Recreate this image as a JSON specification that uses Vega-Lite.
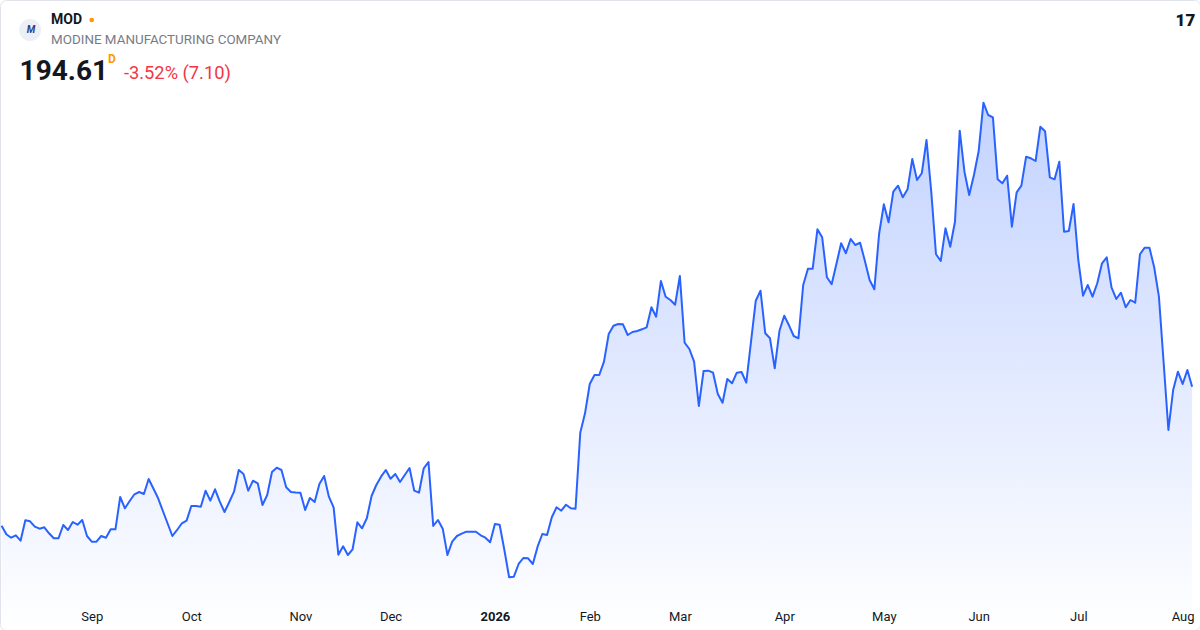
{
  "$schema": "https://vega.github.io/schema/vega-lite/v6.json",
  "width": 1200,
  "height": 630,
  "autosize": {"type": "none"},
  "padding": 0,
  "background": "#ffffff",
  "config": {
    "font": "Roboto",
    "view": {"stroke": "#e0e3eb", "strokeWidth": 1, "cornerRadius": 6}
  },
  "data": {
    "values": [
      {"date": "2025-08-05", "close": 135.46}, {"date": "2025-08-06", "close": 131.80}, {"date": "2025-08-07", "close": 130.35},
      {"date": "2025-08-08", "close": 131.37}, {"date": "2025-08-11", "close": 129.07}, {"date": "2025-08-12", "close": 137.76},
      {"date": "2025-08-13", "close": 137.33}, {"date": "2025-08-14", "close": 135.03}, {"date": "2025-08-15", "close": 134.18},
      {"date": "2025-08-18", "close": 134.78}, {"date": "2025-08-19", "close": 132.22}, {"date": "2025-08-20", "close": 130.10},
      {"date": "2025-08-21", "close": 130.10}, {"date": "2025-08-22", "close": 135.76}, {"date": "2025-08-25", "close": 133.63},
      {"date": "2025-08-26", "close": 137.03}, {"date": "2025-08-27", "close": 135.88}, {"date": "2025-08-28", "close": 137.88},
      {"date": "2025-08-29", "close": 131.07}, {"date": "2025-09-02", "close": 128.65}, {"date": "2025-09-03", "close": 128.65},
      {"date": "2025-09-04", "close": 131.07}, {"date": "2025-09-05", "close": 130.35}, {"date": "2025-09-08", "close": 133.93},
      {"date": "2025-09-09", "close": 133.93}, {"date": "2025-09-10", "close": 147.67}, {"date": "2025-09-11", "close": 142.86},
      {"date": "2025-09-12", "close": 145.97}, {"date": "2025-09-15", "close": 148.82}, {"date": "2025-09-16", "close": 149.80},
      {"date": "2025-09-17", "close": 148.95}, {"date": "2025-09-18", "close": 155.33}, {"date": "2025-09-19", "close": 151.29},
      {"date": "2025-09-22", "close": 147.12}, {"date": "2025-09-23", "close": 141.71}, {"date": "2025-09-24", "close": 136.39},
      {"date": "2025-09-25", "close": 131.07}, {"date": "2025-09-26", "close": 133.63}, {"date": "2025-09-29", "close": 136.48},
      {"date": "2025-09-30", "close": 137.59}, {"date": "2025-10-01", "close": 143.84}, {"date": "2025-10-02", "close": 143.84},
      {"date": "2025-10-03", "close": 143.54}, {"date": "2025-10-06", "close": 150.35}, {"date": "2025-10-07", "close": 146.10},
      {"date": "2025-10-08", "close": 150.95}, {"date": "2025-10-09", "close": 145.67}, {"date": "2025-10-10", "close": 141.29},
      {"date": "2025-10-13", "close": 145.54}, {"date": "2025-10-14", "close": 149.93}, {"date": "2025-10-15", "close": 159.16},
      {"date": "2025-10-16", "close": 157.46}, {"date": "2025-10-17", "close": 150.35}, {"date": "2025-10-20", "close": 154.61},
      {"date": "2025-10-21", "close": 153.50}, {"date": "2025-10-22", "close": 144.27}, {"date": "2025-10-23", "close": 148.52},
      {"date": "2025-10-24", "close": 158.31}, {"date": "2025-10-27", "close": 160.14}, {"date": "2025-10-28", "close": 159.16},
      {"date": "2025-10-29", "close": 151.80}, {"date": "2025-10-30", "close": 149.80}, {"date": "2025-10-31", "close": 149.59},
      {"date": "2025-11-03", "close": 149.50}, {"date": "2025-11-04", "close": 142.14}, {"date": "2025-11-05", "close": 147.25},
      {"date": "2025-11-06", "close": 145.54}, {"date": "2025-11-07", "close": 153.20}, {"date": "2025-11-10", "close": 156.61},
      {"date": "2025-11-11", "close": 147.80}, {"date": "2025-11-12", "close": 143.29}, {"date": "2025-11-13", "close": 123.12},
      {"date": "2025-11-14", "close": 126.69}, {"date": "2025-11-17", "close": 122.99}, {"date": "2025-11-18", "close": 125.42},
      {"date": "2025-11-19", "close": 136.90}, {"date": "2025-11-20", "close": 134.35}, {"date": "2025-11-21", "close": 138.61},
      {"date": "2025-11-24", "close": 148.10}, {"date": "2025-11-25", "close": 152.78}, {"date": "2025-11-26", "close": 156.31},
      {"date": "2025-11-28", "close": 159.16}, {"date": "2025-12-01", "close": 155.46}, {"date": "2025-12-02", "close": 157.46},
      {"date": "2025-12-03", "close": 154.05}, {"date": "2025-12-04", "close": 157.03}, {"date": "2025-12-05", "close": 160.01},
      {"date": "2025-12-08", "close": 150.35}, {"date": "2025-12-09", "close": 149.50}, {"date": "2025-12-10", "close": 159.88},
      {"date": "2025-12-11", "close": 162.56}, {"date": "2025-12-12", "close": 135.33}, {"date": "2025-12-15", "close": 137.88},
      {"date": "2025-12-16", "close": 134.18}, {"date": "2025-12-17", "close": 122.99}, {"date": "2025-12-18", "close": 128.65},
      {"date": "2025-12-19", "close": 131.07}, {"date": "2025-12-22", "close": 132.05}, {"date": "2025-12-23", "close": 132.90},
      {"date": "2025-12-24", "close": 132.90}, {"date": "2025-12-26", "close": 132.90}, {"date": "2025-12-29", "close": 131.37},
      {"date": "2025-12-30", "close": 130.35}, {"date": "2025-12-31", "close": 128.39}, {"date": "2026-01-02", "close": 136.18},
      {"date": "2026-01-05", "close": 135.88}, {"date": "2026-01-06", "close": 125.12}, {"date": "2026-01-07", "close": 113.50},
      {"date": "2026-01-08", "close": 113.76}, {"date": "2026-01-09", "close": 119.16}, {"date": "2026-01-12", "close": 121.71},
      {"date": "2026-01-13", "close": 121.59}, {"date": "2026-01-14", "close": 119.16}, {"date": "2026-01-15", "close": 126.52},
      {"date": "2026-01-16", "close": 131.93}, {"date": "2026-01-20", "close": 131.50}, {"date": "2026-01-21", "close": 139.03},
      {"date": "2026-01-22", "close": 143.29}, {"date": "2026-01-23", "close": 141.84}, {"date": "2026-01-26", "close": 144.39},
      {"date": "2026-01-27", "close": 142.86}, {"date": "2026-01-28", "close": 142.69}, {"date": "2026-01-29", "close": 175.03},
      {"date": "2026-01-30", "close": 183.29}, {"date": "2026-02-02", "close": 195.76}, {"date": "2026-02-03", "close": 199.59},
      {"date": "2026-02-04", "close": 199.59}, {"date": "2026-02-05", "close": 205.25}, {"date": "2026-02-06", "close": 217.03},
      {"date": "2026-02-09", "close": 220.56}, {"date": "2026-02-10", "close": 221.29}, {"date": "2026-02-11", "close": 221.16},
      {"date": "2026-02-12", "close": 216.61}, {"date": "2026-02-13", "close": 217.88}, {"date": "2026-02-17", "close": 218.31},
      {"date": "2026-02-18", "close": 219.03}, {"date": "2026-02-19", "close": 219.88}, {"date": "2026-02-20", "close": 228.39},
      {"date": "2026-02-23", "close": 224.39}, {"date": "2026-02-24", "close": 239.59}, {"date": "2026-02-25", "close": 232.90},
      {"date": "2026-02-26", "close": 231.50}, {"date": "2026-02-27", "close": 229.50}, {"date": "2026-03-02", "close": 241.71},
      {"date": "2026-03-03", "close": 213.33}, {"date": "2026-03-04", "close": 210.65}, {"date": "2026-03-05", "close": 205.25},
      {"date": "2026-03-06", "close": 186.39}, {"date": "2026-03-09", "close": 201.29}, {"date": "2026-03-10", "close": 201.42},
      {"date": "2026-03-11", "close": 200.56}, {"date": "2026-03-12", "close": 191.50}, {"date": "2026-03-13", "close": 187.80},
      {"date": "2026-03-16", "close": 197.88}, {"date": "2026-03-17", "close": 196.05}, {"date": "2026-03-18", "close": 200.56},
      {"date": "2026-03-19", "close": 200.86}, {"date": "2026-03-20", "close": 196.31}, {"date": "2026-03-23", "close": 213.76},
      {"date": "2026-03-24", "close": 231.20}, {"date": "2026-03-25", "close": 235.46}, {"date": "2026-03-26", "close": 217.33},
      {"date": "2026-03-27", "close": 215.20}, {"date": "2026-03-30", "close": 202.44}, {"date": "2026-03-31", "close": 218.44},
      {"date": "2026-04-01", "close": 224.82}, {"date": "2026-04-02", "close": 220.73}, {"date": "2026-04-06", "close": 216.18},
      {"date": "2026-04-07", "close": 215.20}, {"date": "2026-04-08", "close": 237.88}, {"date": "2026-04-09", "close": 244.82},
      {"date": "2026-04-10", "close": 244.82}, {"date": "2026-04-13", "close": 261.59}, {"date": "2026-04-14", "close": 258.18},
      {"date": "2026-04-15", "close": 241.16}, {"date": "2026-04-16", "close": 238.18}, {"date": "2026-04-17", "close": 246.82},
      {"date": "2026-04-20", "close": 255.63}, {"date": "2026-04-21", "close": 251.37}, {"date": "2026-04-22", "close": 257.46},
      {"date": "2026-04-23", "close": 254.90}, {"date": "2026-04-24", "close": 255.88}, {"date": "2026-04-27", "close": 248.22},
      {"date": "2026-04-28", "close": 240.01}, {"date": "2026-04-29", "close": 236.05}, {"date": "2026-04-30", "close": 259.59},
      {"date": "2026-05-01", "close": 272.22}, {"date": "2026-05-04", "close": 264.56}, {"date": "2026-05-05", "close": 277.59},
      {"date": "2026-05-06", "close": 280.14}, {"date": "2026-05-07", "close": 275.20}, {"date": "2026-05-08", "close": 278.61},
      {"date": "2026-05-11", "close": 291.50}, {"date": "2026-05-12", "close": 282.56}, {"date": "2026-05-13", "close": 285.42},
      {"date": "2026-05-14", "close": 299.59}, {"date": "2026-05-15", "close": 277.59}, {"date": "2026-05-18", "close": 250.95},
      {"date": "2026-05-19", "close": 248.10}, {"date": "2026-05-20", "close": 262.01}, {"date": "2026-05-21", "close": 254.18},
      {"date": "2026-05-22", "close": 264.82}, {"date": "2026-05-26", "close": 303.54}, {"date": "2026-05-27", "close": 286.10},
      {"date": "2026-05-28", "close": 276.18}, {"date": "2026-05-29", "close": 284.69}, {"date": "2026-06-01", "close": 294.90},
      {"date": "2026-06-02", "close": 315.46}, {"date": "2026-06-03", "close": 310.22}, {"date": "2026-06-04", "close": 309.25},
      {"date": "2026-06-05", "close": 282.86}, {"date": "2026-06-08", "close": 281.16}, {"date": "2026-06-09", "close": 284.39},
      {"date": "2026-06-10", "close": 262.69}, {"date": "2026-06-11", "close": 277.33}, {"date": "2026-06-12", "close": 280.14},
      {"date": "2026-06-15", "close": 292.48}, {"date": "2026-06-16", "close": 291.80}, {"date": "2026-06-17", "close": 290.65},
      {"date": "2026-06-18", "close": 305.25}, {"date": "2026-06-22", "close": 303.29}, {"date": "2026-06-23", "close": 283.71},
      {"date": "2026-06-24", "close": 282.86}, {"date": "2026-06-25", "close": 290.35}, {"date": "2026-06-26", "close": 260.56},
      {"date": "2026-06-29", "close": 260.86}, {"date": "2026-06-30", "close": 272.35}, {"date": "2026-07-01", "close": 248.52},
      {"date": "2026-07-02", "close": 233.33}, {"date": "2026-07-06", "close": 237.88}, {"date": "2026-07-07", "close": 232.90},
      {"date": "2026-07-08", "close": 238.61}, {"date": "2026-07-09", "close": 247.12}, {"date": "2026-07-10", "close": 249.67},
      {"date": "2026-07-13", "close": 236.90}, {"date": "2026-07-14", "close": 231.93}, {"date": "2026-07-15", "close": 234.61},
      {"date": "2026-07-16", "close": 228.39}, {"date": "2026-07-17", "close": 231.50}, {"date": "2026-07-20", "close": 230.35},
      {"date": "2026-07-21", "close": 250.95}, {"date": "2026-07-22", "close": 253.76}, {"date": "2026-07-23", "close": 253.76},
      {"date": "2026-07-24", "close": 245.42}, {"date": "2026-07-27", "close": 232.90}, {"date": "2026-07-28", "close": 204.69},
      {"date": "2026-07-29", "close": 176.18}, {"date": "2026-07-30", "close": 193.20}, {"date": "2026-07-31", "close": 200.99},
      {"date": "2026-08-03", "close": 195.76}, {"date": "2026-08-04", "close": 201.71}, {"date": "2026-08-05", "close": 194.61}
    ]
  },
  "layer": [
    {
      "mark": {
        "type": "area",
        "color": {
          "gradient": "linear",
          "x1": 1, "y1": 1, "x2": 1, "y2": 0,
          "stops": [
            {"offset": 0, "color": "rgba(41,98,255,0)"},
            {"offset": 0.5, "color": "rgba(41,98,255,0.14)"},
            {"offset": 1, "color": "rgba(41,98,255,0.28)"}
          ]
        }
      },
      "encoding": {
        "x": {
          "field": "date",
          "type": "ordinal",
          "scale": {"type": "point", "padding": 1.0545, "align": 0.17},
          "axis": {
            "title": null,
            "orient": "bottom",
            "offset": -26,
            "domain": false,
            "ticks": false,
            "grid": false,
            "labelAngle": 0,
            "labelPadding": 6,
            "labelFontSize": 13,
            "labelColor": "#131722",
            "labelFontWeight": {"condition": {"test": "datum.value == '2026-01-02'", "value": "bold"}, "value": "normal"},
            "values": ["2025-09-02", "2025-10-01", "2025-11-03", "2025-12-01", "2026-01-02", "2026-02-02", "2026-03-02", "2026-04-01", "2026-05-01", "2026-06-01", "2026-07-01", "2026-08-03"],
            "labelExpr": "datum.value == '2026-01-02' ? '2026' : utcFormat(toDate(datum.value), '%b')"
          }
        },
        "y": {
          "field": "close",
          "type": "quantitative",
          "scale": {"domain": [91.07, 359.16], "zero": false, "nice": false},
          "axis": null
        },
        "y2": {"datum": 91.07}
      }
    },
    {
      "mark": {"type": "line", "color": "#2962ff", "strokeWidth": 2, "strokeJoin": "round"},
      "encoding": {
        "x": {"field": "date", "type": "ordinal"},
        "y": {"field": "close", "type": "quantitative", "axis": null}
      }
    },
    {
      "data": {"values": [{"label": "logo"}]},
      "mark": {"type": "point", "shape": "circle", "filled": true, "size": 480, "color": "#eceff5", "opacity": 1},
      "encoding": {
        "x": {"datum": "2025-08-13", "type": "ordinal"},
        "y": {"datum": 346.4, "type": "quantitative", "axis": null}
      }
    },
    {
      "data": {"values": [{"label": "M"}]},
      "mark": {"type": "text", "fontSize": 10, "fontWeight": "bold", "fontStyle": "italic", "color": "#2b3f8a", "align": "center", "baseline": "middle", "dx": 1},
      "encoding": {
        "x": {"datum": "2025-08-13", "type": "ordinal"},
        "y": {"datum": 346.4, "type": "quantitative", "axis": null},
        "text": {"field": "label"}
      }
    },
    {
      "data": {"values": [{"label": "MOD"}]},
      "mark": {"type": "text", "fontSize": 14, "fontWeight": "bold", "color": "#131722", "align": "left", "baseline": "middle", "dx": 2},
      "encoding": {
        "x": {"datum": "2025-08-19", "type": "ordinal"},
        "y": {"datum": 350.65, "type": "quantitative", "axis": null},
        "text": {"field": "label"}
      }
    },
    {
      "data": {"values": [{"label": "status"}]},
      "mark": {"type": "point", "shape": "circle", "filled": true, "size": 22, "color": "#ff9800", "opacity": 1},
      "encoding": {
        "x": {"datum": "2025-09-02", "type": "ordinal"},
        "y": {"datum": 350.65, "type": "quantitative", "axis": null}
      }
    },
    {
      "data": {"values": [{"label": "MODINE MANUFACTURING COMPANY"}]},
      "mark": {"type": "text", "fontSize": 13.4, "color": "#787b86", "align": "left", "baseline": "middle", "dx": 2},
      "encoding": {
        "x": {"datum": "2025-08-19", "type": "ordinal"},
        "y": {"datum": 341.93, "type": "quantitative", "axis": null},
        "text": {"field": "label"}
      }
    },
    {
      "data": {"values": [{"label": "194.61"}]},
      "mark": {"type": "text", "fontSize": 28, "fontWeight": "bold", "color": "#131722", "align": "left", "baseline": "middle", "dx": -1},
      "encoding": {
        "x": {"datum": "2025-08-11", "type": "ordinal"},
        "y": {"datum": 328.4, "type": "quantitative", "axis": null},
        "text": {"field": "label"}
      }
    },
    {
      "data": {"values": [{"label": "D"}]},
      "mark": {"type": "text", "fontSize": 12, "fontWeight": "bold", "color": "#ff9800", "align": "left", "baseline": "middle", "dx": 2},
      "encoding": {
        "x": {"datum": "2025-09-05", "type": "ordinal"},
        "y": {"datum": 334.0, "type": "quantitative", "axis": null},
        "text": {"field": "label"}
      }
    },
    {
      "data": {"values": [{"label": "-3.52% (7.10)"}]},
      "mark": {"type": "text", "fontSize": 18.3, "color": "#f23645", "align": "left", "baseline": "middle", "dx": -1},
      "encoding": {
        "x": {"datum": "2025-09-11", "type": "ordinal"},
        "y": {"datum": 327.46, "type": "quantitative", "axis": null},
        "text": {"field": "label"}
      }
    },
    {
      "data": {"values": [{"label": "17"}]},
      "mark": {"type": "text", "fontSize": 17, "fontWeight": 900, "color": "#131722", "align": "center", "baseline": "middle", "dx": -2},
      "encoding": {
        "x": {"datum": "2026-08-04", "type": "ordinal"},
        "y": {"datum": 350.2, "type": "quantitative", "axis": null},
        "text": {"field": "label"}
      }
    }
  ]
}
